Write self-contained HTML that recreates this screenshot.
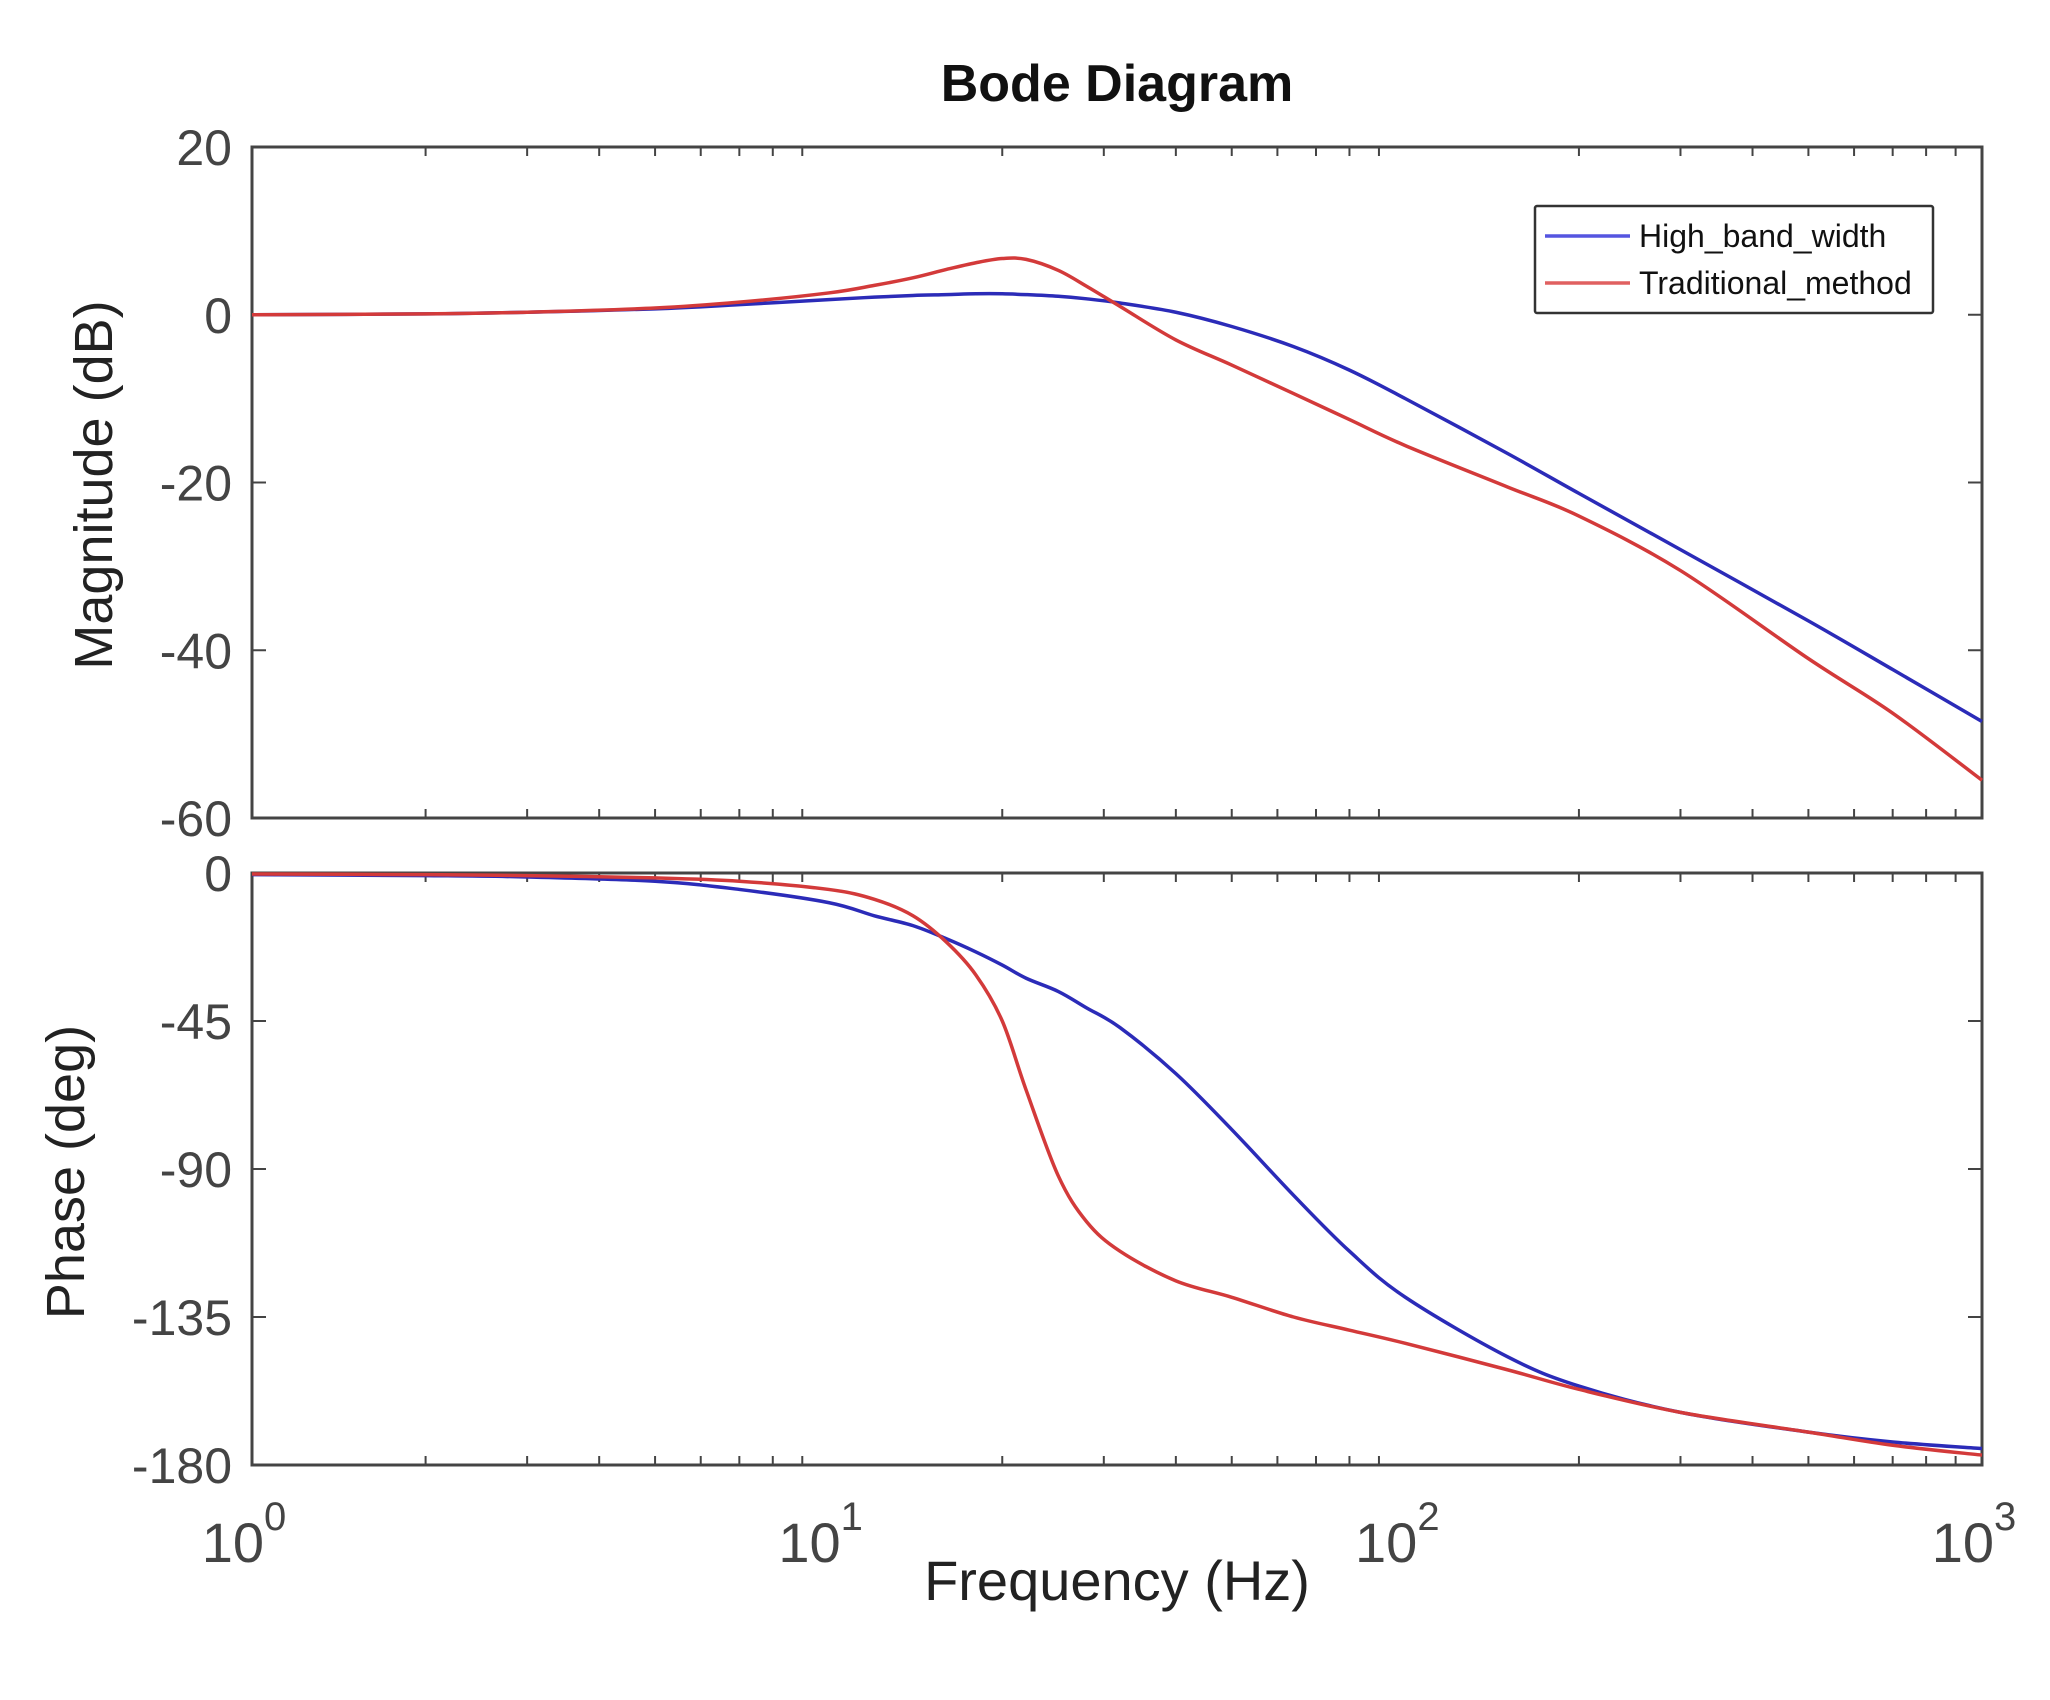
<!DOCTYPE html>
<html><head><meta charset="utf-8"><style>
html,body{margin:0;padding:0;background:#fff;}
svg{display:block;font-family:"Liberation Sans",Arial,sans-serif;}
</style></head><body>
<svg id="chart" width="2050" height="1700" viewBox="0 0 2050 1700" xmlns="http://www.w3.org/2000/svg">
<text x="1117" y="101" text-anchor="middle" font-size="52" font-weight="bold" fill="#111">Bode Diagram</text>
<text x="1117" y="1600" text-anchor="middle" font-size="56" fill="#222">Frequency  (Hz)</text>
<text transform="translate(112,485) rotate(-90)" text-anchor="middle" font-size="54" fill="#222">Magnitude (dB)</text>
<text transform="translate(84,1172) rotate(-90)" text-anchor="middle" font-size="54" fill="#222">Phase (deg)</text>
<g id="g"></g>
</svg>
<script>
const freqs=[1,2,3,5,7,10,12,14,16,18,20,22,25,28,32,40,50,64,80,100,150,200,300,500,700,1000];
const magHigh=[0,0.1,0.3,0.7,1.2,1.8,2.1,2.3,2.4,2.5,2.5,2.4,2.2,1.9,1.4,0.3,-1.4,-3.8,-6.6,-10,-16.5,-21.3,-28,-36.5,-42.3,-48.5];
const magTrad=[0,0.1,0.3,0.8,1.5,2.6,3.5,4.4,5.4,6.2,6.7,6.6,5.3,3.4,1.0,-3.0,-6.0,-9.4,-12.5,-15.6,-20.5,-24,-30.5,-41,-47.5,-55.5];
const phaseHigh=[-0.5,-0.8,-1.2,-2.5,-5,-9,-13,-16,-20,-24,-28,-32,-36,-41,-47,-61,-78,-98,-115,-129,-147,-156,-164,-170,-173,-175];
const phaseTrad=[-0.3,-0.5,-0.8,-1.5,-2.5,-5,-8,-13,-21,-31,-45,-66,-92,-106,-115,-124,-129,-135,-139,-143,-151,-157,-164,-170,-174,-177];
const magTicks=[20,0,-20,-40,-60];
const phaseTicks=[0,-45,-90,-135,-180];
const xDecades=[0,1,2,3];
const seriesNames=["High_band_width","Traditional_method"];

const NS="http://www.w3.org/2000/svg";
const g=document.getElementById('g');
const L=252,R=1982;
const P1={top:147,bot:818,min:-60,max:20};
const P2={top:873,bot:1465,min:-180,max:0};
const xs=f=>L+(Math.log10(f)-0)/3*(R-L);
const ys=(p,v)=>p.bot-(v-p.min)/(p.max-p.min)*(p.bot-p.top);
function el(t,a,parent){const e=document.createElementNS(NS,t);for(const k in a)e.setAttribute(k,a[k]);(parent||g).appendChild(e);return e;}

function panel(p,ticks,name,series){
  const box=el('rect',{x:L,y:p.top,width:R-L,height:p.bot-p.top,fill:'none',stroke:'#444','stroke-width':3});
  
  
  for(let d=0;d<3;d++)for(let m=1;m<=9;m++){
    if(d>0&&m===1)continue;
    const x=xs(Math.pow(10,d)*m);
    const len=m===1?14:9;
    el('line',{x1:x,y1:p.top,x2:x,y2:p.top+len,stroke:'#444','stroke-width':2});
    el('line',{x1:x,y1:p.bot,x2:x,y2:p.bot-len,stroke:'#444','stroke-width':2});
  }
  ticks.forEach(v=>{
    const y=ys(p,v);
    el('line',{x1:L,y1:y,x2:L+14,y2:y,stroke:'#444','stroke-width':2});
    el('line',{x1:R,y1:y,x2:R-14,y2:y,stroke:'#444','stroke-width':2});
    const t=el('text',{x:L-20,y:y+18,'text-anchor':'end','font-size':50,fill:'#444'});
    t.textContent=v;
    
    
  });
  series.forEach(s=>{
    const pts=freqs.map((f,i)=>[xs(f),ys(p,s.vals[i])]);
    let d='M'+pts[0][0]+','+pts[0][1];
    for(let i=0;i<pts.length-1;i++){
      const p0=pts[Math.max(0,i-1)],p1=pts[i],p2=pts[i+1],p3=pts[Math.min(pts.length-1,i+2)];
      const c1=[p1[0]+(p2[0]-p0[0])/6,p1[1]+(p2[1]-p0[1])/6];
      const c2=[p2[0]-(p3[0]-p1[0])/6,p2[1]-(p3[1]-p1[1])/6];
      d+=' C'+c1+' '+c2+' '+p2;
    }
    const path=el('path',{d:d,fill:'none',stroke:s.color,'stroke-width':3.5,'stroke-linejoin':'round'});
    
    
  });
}
panel(P1,magTicks,'magnitude',[{vals:magHigh,color:'#2b2bb8',key:'high-band-width'},{vals:magTrad,color:'#d33a3a',key:'traditional-method'}]);
panel(P2,phaseTicks,'phase',[{vals:phaseHigh,color:'#2b2bb8',key:'high-band-width'},{vals:phaseTrad,color:'#d33a3a',key:'traditional-method'}]);

xDecades.forEach(d=>{
  const x=xs(Math.pow(10,d));
  const t=el('text',{x:x+12,y:1562,'text-anchor':'end','font-size':56,fill:'#444'});
  t.textContent='10';
  
  
  const s=el('text',{x:x+12,y:1530,'text-anchor':'start','font-size':40,fill:'#444'});
  s.textContent=String(d);
  
  
});

const lg=el('g',{});


el('rect',{x:1535,y:206,width:398,height:107,fill:'#fff',stroke:'#333','stroke-width':2.5,rx:2},lg);
const cols=['#5555e0','#e06060'];
seriesNames.forEach((n,i)=>{
  const y=236+i*47;
  const ln=el('line',{x1:1545,y1:y,x2:1630,y2:y,stroke:cols[i],'stroke-width':3.5},lg);
  
  
  const t=el('text',{x:1639,y:y+11,'font-size':32,fill:'#111'},lg);
  t.textContent=n;
  
  
});
</script>
</body></html>
